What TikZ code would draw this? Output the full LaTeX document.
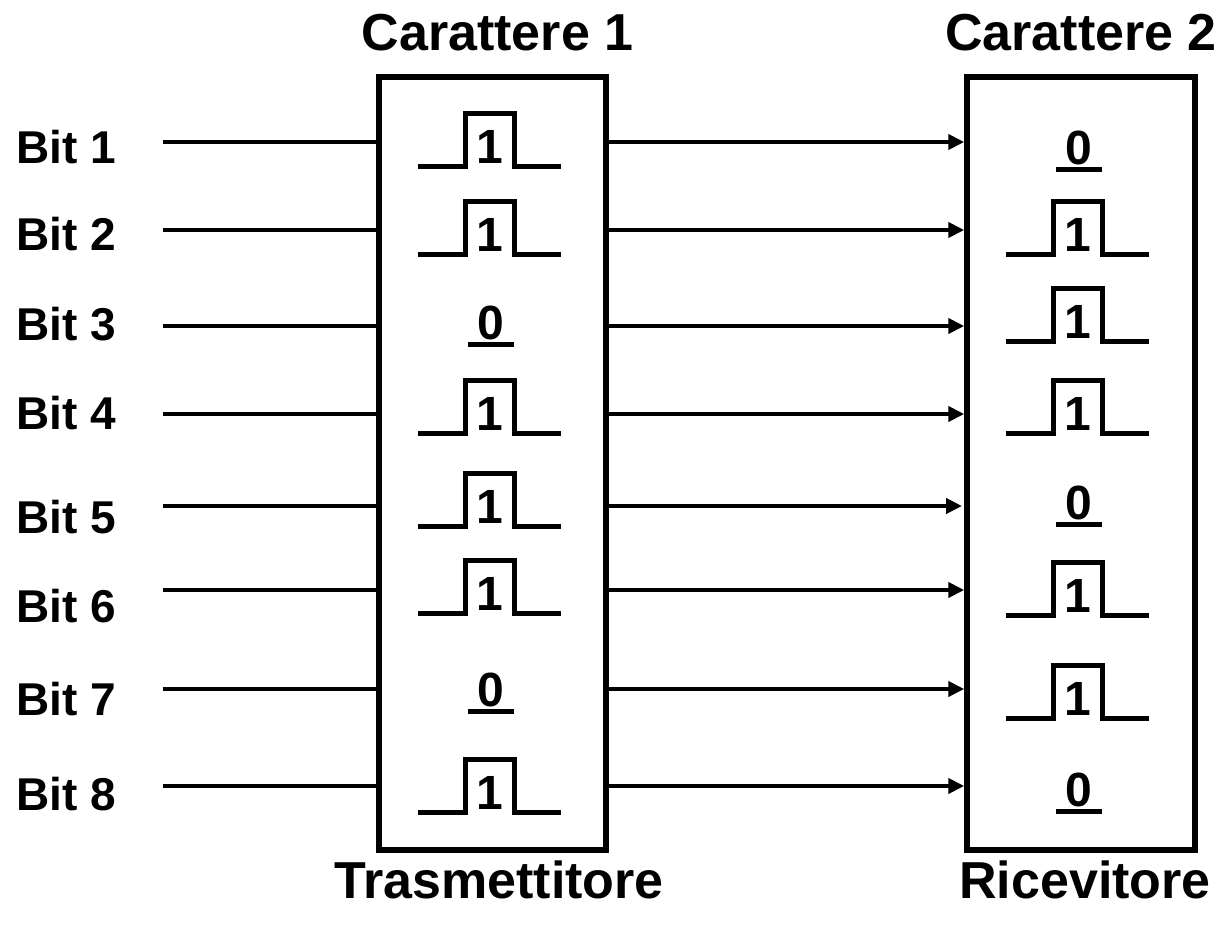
\documentclass[tikz,border=0pt]{standalone}
\usepackage{fontspec}
\setmainfont{Liberation Sans}
\usetikzlibrary{arrows.meta}
\newcommand\pulsebit[3]{%
  \draw[sig] (#2-71.5,#3) -- (#2-24.5,#3) -- (#2-24.5,#3-53) -- (#2+24.5,#3-53) -- (#2+24.5,#3) -- (#2+71.5,#3);
  \node[dig] (#1) at (#2,#3-3) {1};}
\newcommand\zerobit[3]{%
  \node[dig] (#1) at (#2,#3-5) {0};
  \draw[sig] (#2-23,#3) -- (#2+23,#3);}
\begin{document}
\begin{tikzpicture}[x=1pt,y=-1pt,
  wire/.style={line width=4.5pt},
  arr/.style={line width=4.5pt,-{Triangle[length=16pt,width=15pt]}},
  boxst/.style={draw,line width=5.5pt,inner sep=0pt,minimum height=773pt},
  sig/.style={line width=5pt,line join=miter},
  lbl/.style={font=\fontsize{46}{56}\selectfont\bfseries,inner sep=0pt,anchor=base west},
  ttl/.style={font=\fontsize{52}{60}\selectfont\bfseries,inner sep=0pt,anchor=base},
  dig/.style={font=\fontsize{48}{56}\selectfont\bfseries,inner sep=0pt,anchor=base}]
\useasboundingbox (0,0) rectangle (1224,926);
\node[boxst,minimum width=227pt] (tx) at (492.5,463.5) {};
\node[boxst,minimum width=228pt] (rx) at (1081,463.5) {};
% titles
\node[ttl] (c1) at (497.5,50) {Carattere 1};
\node[ttl] (c2) at (1081,50) {Carattere 2};
\node[ttl] (tr) at (499,898) {Trasmettitore};
\node[ttl] (rc) at (1085,898) {Ricevitore};
% labels and wires
\foreach \i/\y/\b in {1/142/163,2/230/250,3/326/340,4/414/429,5/506/533,6/590/622,7/689/715,8/786/810}{
  \node[lbl] (bit\i) at (16,\b) {Bit \i};
  \coordinate (s\i) at (163,\y);
  \draw[wire] (s\i) -- (s\i -| tx.west);
}
\foreach \i in {1,2,3,4,6,7,8}{
  \draw[arr] (s\i -| tx.east) -- (s\i -| rx.west);
}
\coordinate (e5) at (962,506);
\draw[arr] (s5 -| tx.east) -- (e5);
% transmitter
\pulsebit{t1}{489.5}{166}
\pulsebit{t2}{489.5}{254}
\zerobit{t3}{491}{344}
\pulsebit{t4}{489.5}{433}
\pulsebit{t5}{489.5}{526}
\pulsebit{t6}{489.5}{613}
\zerobit{t7}{491}{711}
\pulsebit{t8}{489.5}{812}
% receiver
\zerobit{r1}{1078.5}{169}
\pulsebit{r2}{1077.5}{254}
\pulsebit{r3}{1077.5}{341}
\pulsebit{r4}{1077.5}{433}
\zerobit{r5}{1078.5}{524}
\pulsebit{r6}{1077.5}{615}
\pulsebit{r7}{1077.5}{718}
\zerobit{r8}{1078.5}{811}
\end{tikzpicture}
\end{document}
